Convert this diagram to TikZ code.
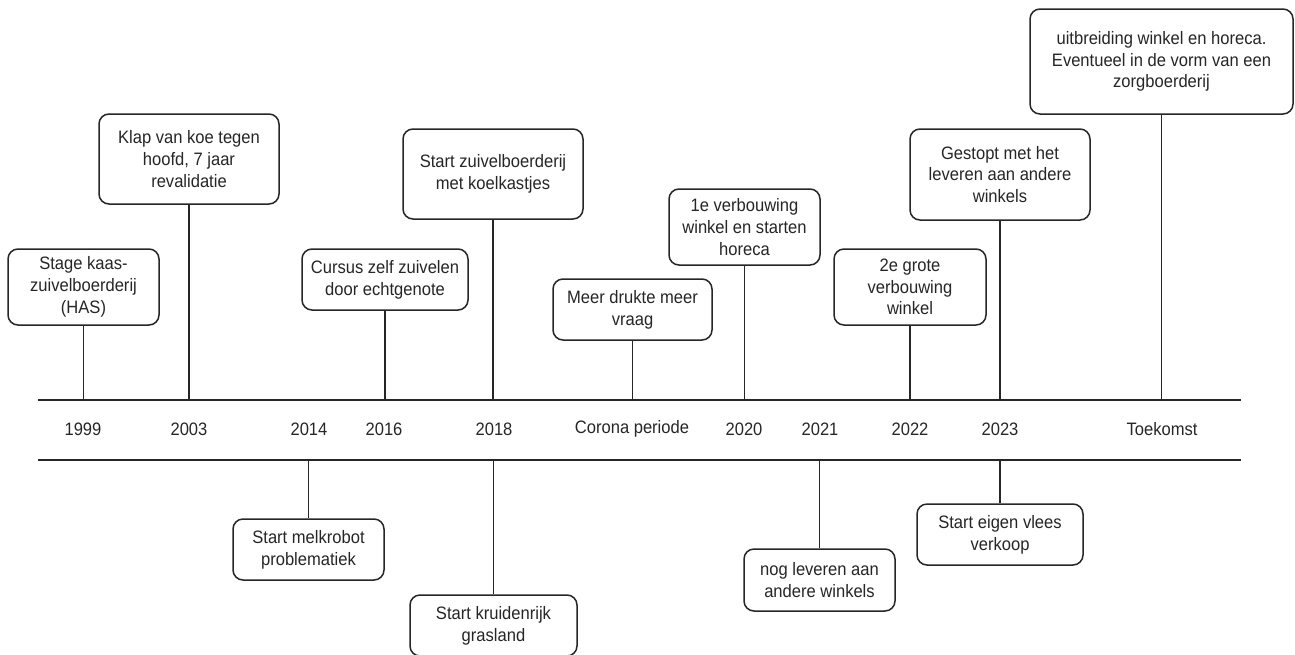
\documentclass[tikz,border=0pt]{standalone}
\usepackage{fontspec}
\setmainfont{Liberation Sans}[FakeStretch=0.92]
\begin{document}
\definecolor{ink}{RGB}{38,38,38}
\begin{tikzpicture}[x=1pt,y=-1pt,
  every node/.style={text=ink,font=\fontsize{18}{21.7}\selectfont},
  event/.style={draw=ink,line width=1.5pt,rounded corners=10pt,fill=white,
    align=center,inner sep=0pt},
  year/.style={anchor=center},
  axis/.style={draw=ink,line width=2pt},
  stem/.style={draw=ink,line width=1.5pt}]
\useasboundingbox (0,0) rectangle (1295,654);

% axis lines
\coordinate (topL) at (38,400);
\coordinate (topR) at (1241,400);
\coordinate (botL) at (38,460);
\coordinate (botR) at (1241,460);
\draw[axis] (topL) -- (topR);
\draw[axis] (botL) -- (botR);

% year labels
\node[year] (y1999) at (83,429) {1999};
\node[year] (y2003) at (189,429) {2003};
\node[year] (y2014) at (309,429) {2014};
\node[year] (y2016) at (384,429) {2016};
\node[year] (y2018) at (494,429) {2018};
\node[year] (ycor)  at (632,429) {Corona periode};
\node[year] (y2020) at (744,429) {2020};
\node[year] (y2021) at (820,429) {2021};
\node[year] (y2022) at (910,429) {2022};
\node[year] (y2023) at (1000,429) {2023};
\node[year] (ytoek) at (1162,429) {Toekomst};

% events above the axis
\node[event,minimum width=151pt,minimum height=76pt] (stage) at (83.5,287)
  {Stage kaas-\\zuivelboerderij\\(HAS)};
\node[event,minimum width=180pt,minimum height=90pt] (klap) at (189,159)
  {Klap van koe tegen\\hoofd, 7 jaar\\revalidatie};
\node[event,minimum width=166pt,minimum height=61pt] (cursus) at (385,279.5)
  {Cursus zelf zuivelen\\door echtgenote};
\node[event,minimum width=180pt,minimum height=90pt] (zuivel) at (493,174)
  {Start zuivelboerderij\\met koelkastjes};
\node[event,minimum width=159pt,minimum height=61pt] (drukte) at (632.5,309.5)
  {Meer drukte meer\\vraag};
\node[event,minimum width=151pt,minimum height=76pt] (verb1) at (744.5,227)
  {1e verbouwing\\winkel en starten\\horeca};
\node[event,minimum width=152pt,minimum height=76pt] (verb2) at (910,287)
  {2e grote\\verbouwing\\winkel};
\node[event,minimum width=180pt,minimum height=91pt] (gestopt) at (1000,174.5)
  {Gestopt met het\\leveren aan andere\\winkels};
\node[event,minimum width=263pt,minimum height=105pt] (toekomst) at (1161.5,61.5)
  {uitbreiding winkel en horeca.\\Eventueel in de vorm van een\\zorgboerderij};

% events below the axis
\node[event,minimum width=151pt,minimum height=61pt] (melk) at (308.5,549.5)
  {Start melkrobot\\problematiek};
\node[event,minimum width=167pt,minimum height=61pt] (kruid) at (493.5,625.5)
  {Start kruidenrijk\\grasland};
\node[event,minimum width=151pt,minimum height=62pt] (nog) at (819.5,580)
  {nog leveren aan\\andere winkels};
\node[event,minimum width=166pt,minimum height=61pt] (vlees) at (1000,534.5)
  {Start eigen vlees\\verkoop};

% stems from the boxes to the axis
\draw[stem] (stage.south)    -- (stage.south |- topL);
\draw[stem] (klap.south)     -- (klap.south |- topL);
\draw[stem] (cursus.south)   -- (cursus.south |- topL);
\draw[stem] (zuivel.south)   -- (zuivel.south |- topL);
\draw[stem] (drukte.south)   -- (drukte.south |- topL);
\draw[stem] (verb1.south)    -- (verb1.south |- topL);
\draw[stem] (verb2.south)    -- (verb2.south |- topL);
\draw[stem] (gestopt.south)  -- (gestopt.south |- topL);
\draw[stem] (toekomst.south) -- (toekomst.south |- topL);
\draw[stem] (melk.north)     -- (melk.north |- botL);
\draw[stem] (kruid.north)    -- (kruid.north |- botL);
\draw[stem] (nog.north)      -- (nog.north |- botL);
\draw[stem] (vlees.north)    -- (vlees.north |- botL);
\end{tikzpicture}
\end{document}
